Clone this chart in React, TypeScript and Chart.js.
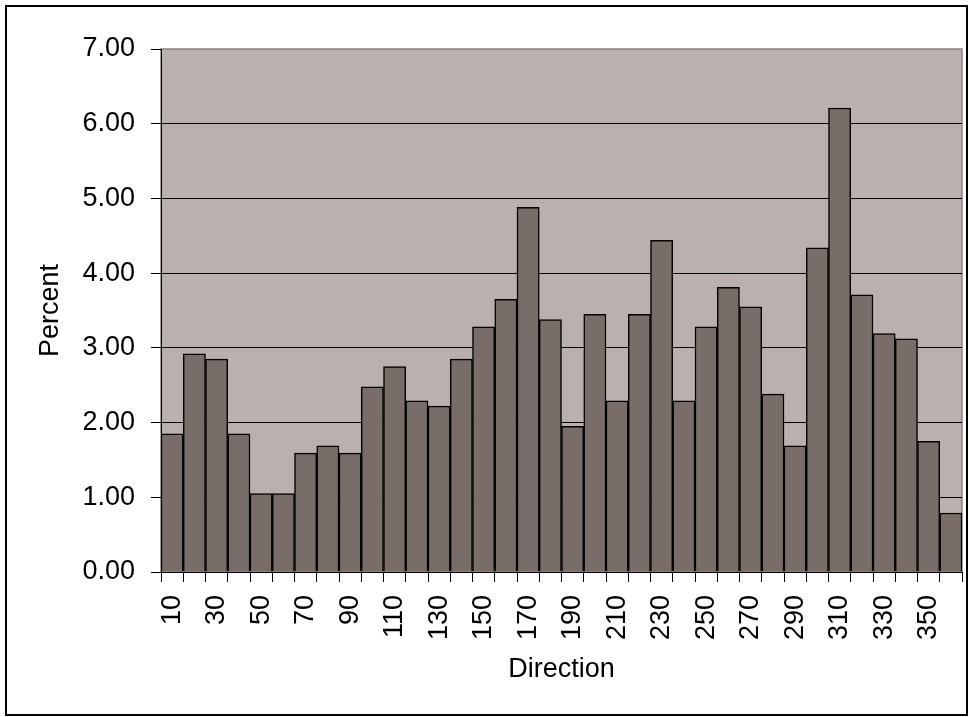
import React, { useEffect, useRef } from "react";
import { Chart, registerables } from "chart.js";

Chart.register(...registerables);

const directions: number[] = [
  10, 20, 30, 40, 50, 60, 70, 80, 90, 100, 110, 120, 130, 140, 150, 160, 170, 180,
  190, 200, 210, 220, 230, 240, 250, 260, 270, 280, 290, 300, 310, 320, 330, 340, 350, 360,
];

const percents: number[] = [
  1.85, 2.92, 2.85, 1.85, 1.05, 1.05, 1.59, 1.69, 1.59, 2.48, 2.75, 2.29, 2.22, 2.85, 3.28, 3.65, 4.88, 3.38,
  1.95, 3.45, 2.29, 3.45, 4.44, 2.29, 3.28, 3.81, 3.55, 2.38, 1.69, 4.34, 6.21, 3.71, 3.19, 3.12, 1.75, 0.79,
];

const yMin = 0;
const yMax = 7;
const yStep = 1;

const FONT = "'Liberation Sans', Arial, sans-serif";

const backgroundPlugin = {
  id: "plotBackground",
  beforeDraw(chart: any) {
    const { ctx, chartArea, width, height } = chart;
    ctx.save();
    ctx.fillStyle = "#ffffff";
    ctx.fillRect(0, 0, width, height);
    ctx.fillStyle = "#BAB0AE";
    ctx.fillRect(chartArea.left, chartArea.top, chartArea.right - chartArea.left, chartArea.bottom - chartArea.top);
    ctx.strokeStyle = "#8a8280";
    ctx.lineWidth = 1.5;
    ctx.strokeRect(chartArea.left, chartArea.top, chartArea.right - chartArea.left, chartArea.bottom - chartArea.top);
    ctx.restore();
  },
  afterDraw(chart: any) {
    const { ctx } = chart;
    ctx.save();
    ctx.strokeStyle = "#000";
    ctx.lineWidth = 2;
    ctx.strokeRect(6, 6, 961, 709);
    ctx.restore();
  },
};

export default function App() {
  const canvasRef = useRef<HTMLCanvasElement | null>(null);

  useEffect(() => {
    if (!canvasRef.current) return;
    const chart = new Chart(canvasRef.current, {
      type: "bar",
      data: {
        labels: directions.map(String),
        datasets: [
          {
            label: "Percent",
            data: percents,
            backgroundColor: "#786D69",
            borderColor: "#000000",
            borderWidth: 1.5,
            barPercentage: 1,
            categoryPercentage: 1,
          },
        ],
      },
      options: {
        responsive: false,
        animation: false,
        devicePixelRatio: 1,
        layout: { padding: { top: 49, right: 7, bottom: 0, left: 0 } },
        plugins: {
          legend: { display: false },
          tooltip: { enabled: false },
          title: { display: false },
        },
        scales: {
          x: {
            type: "category",
            offset: true,
            grid: {
              offset: true,
              drawOnChartArea: false,
              drawTicks: true,
              tickLength: 10,
              tickColor: "#000",
              color: "#000",
            },
            border: { display: true, color: "#000", width: 1 },
            ticks: {
              autoSkip: false,
              minRotation: 90,
              maxRotation: 90,
              padding: 13,
              color: "#000",
              font: { family: FONT, size: 27 },
              callback: (_v: any, i: number) => (i % 2 === 0 ? String(directions[i]) : ""),
            },
            title: {
              display: true,
              text: "Direction",
              color: "#000",
              font: { family: FONT, size: 27 },
              padding: { top: 0, bottom: 31 },
            },
            afterFit: (scale: any) => {
              scale.height = 145;
              scale.paddingLeft = 0;
              scale.paddingRight = 0;
            },
          },
          y: {
            min: yMin,
            max: yMax,
            ticks: {
              stepSize: yStep,
              padding: 16,
              color: "#000",
              font: { family: FONT, size: 27 },
              callback: (v: any) => Number(v).toFixed(2),
            },
            grid: {
              color: (ctx: any) => (ctx.tick && ctx.tick.value === yMax ? "rgba(0,0,0,0)" : "#000"),
              tickColor: "#000",
              tickLength: 10,
              lineWidth: 1,
            },
            border: { display: true, color: "#000", width: 1 },
            title: {
              display: true,
              text: "Percent",
              color: "#000",
              font: { family: FONT, size: 27 },
              padding: { top: 34, bottom: 0 },
            },
            afterFit: (scale: any) => {
              scale.width = 161;
              scale.paddingTop = 0;
              scale.paddingBottom = 0;
            },
          },
        },
      },
      plugins: [backgroundPlugin],
    });
    return () => chart.destroy();
  }, []);

  return (
    <div style={{ position: "absolute", left: 0, top: 0, width: 969, height: 717, background: "#fff" }}>
      <canvas ref={canvasRef} width={969} height={717} style={{ display: "block", width: 969, height: 717 }} />
    </div>
  );
}
